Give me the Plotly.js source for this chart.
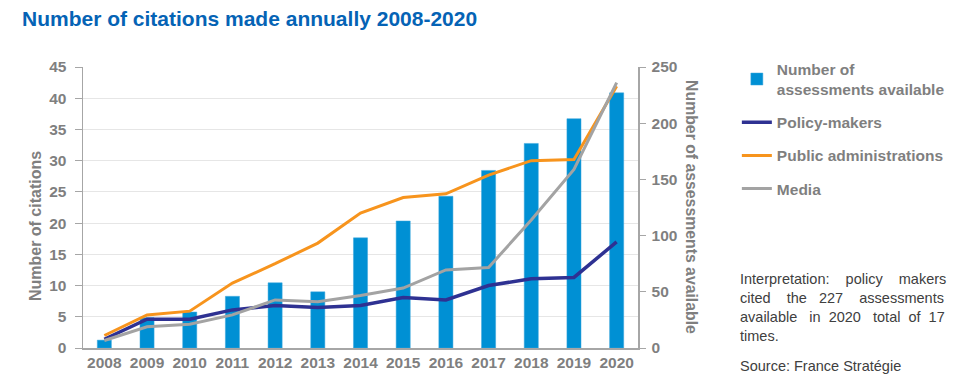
<!DOCTYPE html>
<html>
<head>
<meta charset="utf-8">
<script src="https://cdn.plot.ly/plotly-3.0.1.min.js"></script>
<style>html,body{margin:0;padding:0;background:#fff;}#chart{width:961px;height:384px;}</style>
</head>
<body>
<div id="chart"></div>
<script>
const years = ['2008','2009','2010','2011','2012','2013','2014','2015','2016','2017','2018','2019','2020'];
const assessments = [7, 27, 32, 46, 58, 50, 98, 113, 135, 158, 182, 204, 227];
const policyMakers = [1.4, 4.6, 4.6, 6.1, 6.8, 6.5, 6.8, 8.1, 7.7, 10.0, 11.1, 11.3, 17.0];
const publicAdmin = [2.0, 5.3, 5.9, 10.4, 13.5, 16.8, 21.6, 24.1, 24.7, 27.7, 30.0, 30.2, 41.9];
const media = [1.2, 3.4, 3.8, 5.3, 7.7, 7.4, 8.4, 9.6, 12.5, 12.9, 20.5, 28.6, 42.5];
const leftTicks = [0,5,10,15,20,25,30,35,40,45];
const rightTicks = [0,50,100,150,200,250];

const FONT = 'Liberation Sans, Arial, sans-serif';
const GREY = '#7f7f7f';
const TICKFONT = {family:FONT, size:15.5, color:GREY, weight:'bold'};
const NB = '&nbsp;';
const sp = n => NB.repeat(n);

const traces = [
  {type:'bar', x:years, y:assessments, name:'Number of<br>assessments available', yaxis:'y',
   marker:{color:'#0090d4', line:{color:'#3aa6dc', width:0.5}}, width:0.33, legendgroup:'a'},
  {type:'scatter', mode:'lines', x:years, y:policyMakers, name:'Policy-makers', yaxis:'y2',
   line:{color:'#2e3192', width:3.5}, legendgroup:'b'},
  {type:'scatter', mode:'lines', x:years, y:publicAdmin, name:'Public administrations', yaxis:'y2',
   line:{color:'#f7941d', width:3}, legendgroup:'c'},
  {type:'scatter', mode:'lines', x:years, y:media, name:'Media', yaxis:'y2',
   line:{color:'#a3a3a3', width:3}, legendgroup:'d'}
];

const interp = 'Interpretation:' + sp(4) + 'policy' + sp(4) + 'makers<br>' +
  'cited' + sp(4) + 'the' + sp(3) + '227' + sp(4) + 'assessments<br>' +
  'available' + sp(3) + 'in' + sp(2) + '2020' + sp(3) + 'total' + sp(2) + 'of' + sp(2) + '17<br>times.';

const layout = {
  width:961, height:384,
  margin:{l:83, r:322, t:67, b:36},
  paper_bgcolor:'#ffffff', plot_bgcolor:'#ffffff',
  font:{family:FONT, color:GREY},
  title:{text:'<b>Number of citations made annually 2008-2020</b>', x:22/961, xanchor:'left', y:1-19/384, yanchor:'middle',
         font:{family:FONT, size:21, color:'#0563b5'}},
  bargap:0.5,
  showlegend:true,
  legend:{x:1.176, xanchor:'left', y:1.052, yanchor:'top', traceorder:'grouped', tracegroupgap:10,
          font:{family:FONT, size:15.5, color:GREY, weight:'bold'}, bgcolor:'rgba(0,0,0,0)', itemwidth:30},
  xaxis:{type:'category', showline:true, linecolor:'#a6a6a6', linewidth:1.5, ticks:'', showgrid:false,
         tickfont:TICKFONT, range:[-0.5,12.5]},
  yaxis:{side:'right', range:[0,250], tickvals:rightTicks, ticks:'outside', ticklen:6, tickcolor:'#a6a6a6',
         showline:true, linecolor:'#a6a6a6', linewidth:1.5, showgrid:false, zeroline:false,
         tickfont:TICKFONT, ticklabelstandoff:3},
  yaxis2:{overlaying:'y', side:'left', range:[0,45], tickvals:leftTicks, ticks:'outside', ticklen:7, tickcolor:'#a6a6a6',
          showline:true, linecolor:'#a6a6a6', linewidth:1.5, showgrid:true, gridcolor:'#e6e6e6', zeroline:false,
          tickfont:TICKFONT, ticklabelstandoff:5},
  annotations:[
    {text:'<b>Number of citations</b>', textangle:-90, xref:'paper', yref:'paper', x:(35-83)/556, y:(348-226)/281,
     xanchor:'center', yanchor:'middle', showarrow:false, font:{family:FONT, size:16, color:GREY}},
    {text:'<b>Number of assessments available</b>', textangle:90, xref:'paper', yref:'paper', x:(693-83)/556, y:(348-207)/281,
     xanchor:'center', yanchor:'middle', showarrow:false, font:{family:FONT, size:15.8, color:GREY}},
    {text:interp,
     xref:'paper', yref:'paper', x:(739-83)/556, y:(348-269)/281, xanchor:'left', yanchor:'top', align:'left',
     showarrow:false, font:{family:FONT, size:14.5, color:'#404040'}},
    {text:'Source: France Stratégie', xref:'paper', yref:'paper', x:(739-83)/556, y:(348-356)/281, xanchor:'left', yanchor:'top',
     align:'left', showarrow:false, font:{family:FONT, size:14.5, color:'#404040'}}
  ]
};

Plotly.newPlot('chart', traces, layout, {displayModeBar:false, staticPlot:true});
</script>
</body>
</html>
